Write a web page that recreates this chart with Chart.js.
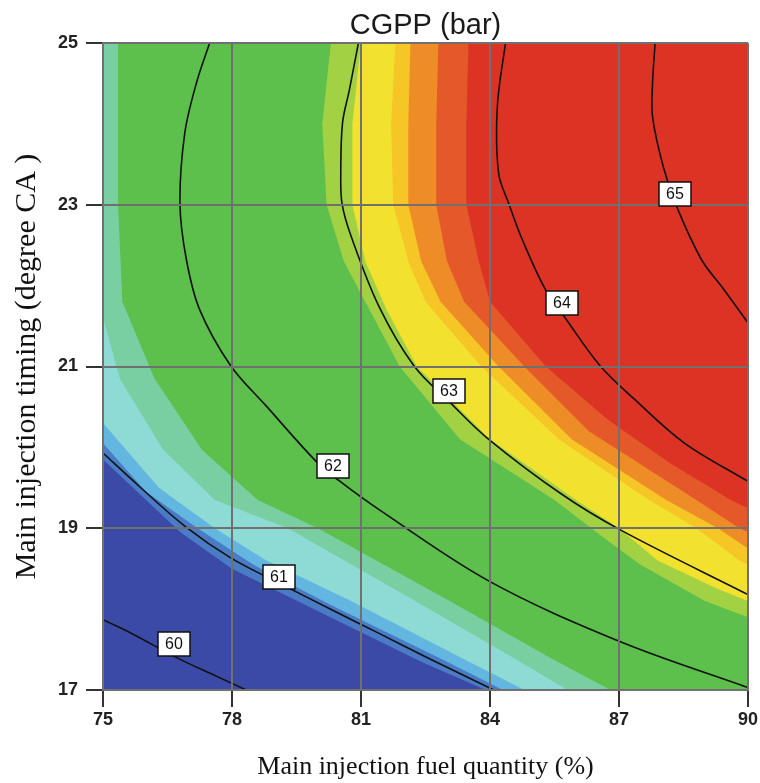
<!DOCTYPE html>
<html>
<head>
<meta charset="utf-8">
<style>
  body { margin: 0; background: #fff; }
  #wrap { width: 760px; height: 783px; }
</style>
</head>
<body>
<div id="wrap"><canvas id="chartCgpp"></canvas></div>
<script src="https://cdn.jsdelivr.net/npm/chart.js@4"></script>
<script>
// axes: main injection fuel quantity (%) and main injection timing (deg CA)
const xRange = [75, 90];
const yRange = [17, 25];
const xStep = 3;
const yStep = 2;

// CGPP contour lines as [fuel %, timing]
const contour60 = [[75, 17.87], [75.70, 17.69], [76.71, 17.40], [77.64, 17.17], [78.33, 17.0]];
const contour61 = [[75, 19.93], [75.86, 19.51], [76.94, 19.01], [77.98, 18.63], [79.10, 18.32],
                   [80.33, 17.99], [81.42, 17.70], [82.58, 17.39], [84.09, 17.0]];
const contour62 = [[77.48, 25], [77.17, 24.50], [76.90, 23.88], [76.79, 23.01], [76.94, 22.32],
                   [77.25, 21.70], [77.97, 21.01], [78.80, 20.51], [79.95, 19.83], [80.46, 19.60],
                   [81.42, 19.23], [84.00, 18.34], [87.02, 17.60], [90, 17.03]];
const contour63 = [[80.94, 25], [80.73, 24.42], [80.57, 24.01], [80.53, 23.39], [80.56, 23.01],
                   [80.77, 22.61], [81.42, 21.74], [82.23, 21.01], [83.08, 20.55],
                   [83.97, 20.10], [85.67, 19.42], [87.03, 18.98], [90, 18.18]];
const contour64 = [[84.36, 25], [84.17, 24.21], [84.20, 23.39], [84.44, 23.01], [84.75, 22.57],
                   [85.29, 21.95], [85.75, 21.60], [86.56, 21.01], [87.37, 20.59], [88.53, 20.05],
                   [90, 19.58]];
const contour65 = [[87.84, 25], [87.78, 24.50], [87.78, 24.09], [88.03, 23.47], [88.34, 22.98],
                   [88.92, 22.32], [89.40, 21.98], [90, 21.54]];
const contourLevels = ['60', '61', '62', '63', '64', '65'];
const contours = [contour60, contour61, contour62, contour63, contour64, contour65];

// label boxes on the contours
const labelX = [76.65, 79.10, 80.34, 83.05, 85.68, 88.30];
const labelY = [17.57, 18.40, 19.77, 20.70, 21.78, 23.13];

// colour band edges, low side (bottom-left) from left/top edge to bottom edge
const edgeTealTint = [[75.35, 25], [75.35, 23], [75.45, 21.8], [76.2, 20.85], [77.3, 19.97], [78.6, 19.35],
                      [80.0, 19.0], [83.0, 18.12], [85.4, 17.4], [86.8, 17.0]];
const edgeLightCyan = [[75, 21.6], [75.4, 20.84], [76.4, 19.97], [77.6, 19.35], [79.3, 19.0], [82.2, 18.12],
                       [84.6, 17.38], [85.8, 17.0]];
const edgeLightBlue = [[75, 20.3], [76.3, 19.5], [77.6, 19.0], [78.8, 18.6], [80.7, 18.12], [83.4, 17.38], [84.8, 17.0]];
const edgeMidBlue = [[75, 20.05], [76.0, 19.45], [77.2, 19.0], [78.5, 18.55], [80.3, 18.05], [83.0, 17.35], [84.3, 17.0]];
const edgeDarkBlue = [[75, 19.85], [76.0, 19.35], [76.8, 18.95], [78.0, 18.5], [80.1, 17.95], [82.4, 17.35], [83.9, 17.0]];

// high side (top-right) from top edge to right edge
const edgeLimeTint = [[80.3, 25], [80.1, 24], [80.2, 23], [80.6, 22.3], [81.3, 21.6], [81.9, 21.0], [83.3, 20.1],
                      [85.5, 19.35], [86.6, 18.9], [87.5, 18.55], [89.0, 18.1], [90, 17.9]];
const edgeYellow = [[81.0, 25], [80.8, 24], [80.8, 23], [81.1, 22.3], [81.6, 21.7], [82.3, 21.0], [84.0, 20.1],
                    [86.0, 19.35], [87.0, 19.0], [87.9, 18.6], [89.3, 18.25], [90, 18.1]];
const edgeGold = [[81.8, 25], [81.7, 24], [81.75, 23], [82.1, 22.3], [82.5, 21.8], [83.8, 21.0], [85.6, 20.1],
                  [87.7, 19.35], [88.8, 19.0], [89.8, 18.6], [90, 18.55]];
const edgeOrange = [[82.15, 25], [82.1, 24], [82.1, 23], [82.4, 22.3], [82.85, 21.8], [84.2, 21.0], [85.9, 20.1],
                    [88.1, 19.35], [89.3, 19.0], [90, 18.75]];
const edgeRedOrange = [[82.8, 25], [82.75, 24], [82.75, 23], [83.0, 22.3], [83.4, 21.8], [84.8, 21.0], [86.3, 20.2],
                       [88.8, 19.35], [89.8, 19.0], [90, 18.95]];
const edgeRed = [[83.5, 25], [83.45, 24], [83.45, 23], [83.74, 22.3], [84.0, 21.8], [85.3, 21.0], [86.75, 20.34],
                 [88.2, 19.8], [89.6, 19.35], [90, 19.25]];

const sans = "'Liberation Sans', Arial, sans-serif";
const serif = "'Liberation Serif', 'Times New Roman', serif";

function pts(arr) {
    return arr.map(p => ({x: p[0], y: p[1]}));
}

// low bands close through the bottom-left corner, high bands through the top-right one
const lowCorner = [[xRange[0], yRange[0]], [xRange[0], yRange[1]]];
const highCorner = [[xRange[1], yRange[1]]];
const wholeArea = [[xRange[0], yRange[1]], [xRange[1], yRange[1]], [xRange[1], yRange[0]], [xRange[0], yRange[0]]];

// bottom to top
const bands = [
    {shape: wholeArea, color: '#5dbf4c'},
    {shape: edgeTealTint.concat(lowCorner), color: '#7acfa2'},
    {shape: edgeLightCyan.concat(lowCorner), color: '#8edbd5'},
    {shape: edgeLightBlue.concat(lowCorner), color: '#62b6e0'},
    {shape: edgeMidBlue.concat(lowCorner), color: '#4a7cc6'},
    {shape: edgeDarkBlue.concat(lowCorner), color: '#3b4aa7'},
    {shape: edgeLimeTint.concat(highCorner), color: '#a2d244'},
    {shape: edgeYellow.concat(highCorner), color: '#f2e22f'},
    {shape: edgeGold.concat(highCorner), color: '#f6c526'},
    {shape: edgeOrange.concat(highCorner), color: '#ee8d27'},
    {shape: edgeRedOrange.concat(highCorner), color: '#e4582a'},
    {shape: edgeRed.concat(highCorner), color: '#dc3325'},
];

const datasets = [];
bands.forEach((b, i) => {
    datasets.push({
        data: pts(b.shape),
        showLine: true,
        fill: 'shape',
        backgroundColor: b.color,
        borderColor: 'rgba(0,0,0,0)',
        borderWidth: 0,
        pointRadius: 0,
        tension: 0,
        order: 100 - i
    });
});
contours.forEach((c, i) => {
    datasets.push({
        label: contourLevels[i],
        data: pts(c),
        showLine: true,
        fill: false,
        borderColor: '#111',
        borderWidth: 1.6,
        pointRadius: 0,
        tension: 0.35,
        order: 0
    });
});

const contourLabels = {
    id: 'contourLabels',
    afterDraw(chart) {
        const {ctx, scales: {x, y}} = chart;
        ctx.save();
        ctx.font = '16px ' + sans;
        ctx.textAlign = 'center';
        ctx.textBaseline = 'middle';
        contourLevels.forEach((lvl, i) => {
            const px = Math.round(x.getPixelForValue(labelX[i]));
            const py = Math.round(y.getPixelForValue(labelY[i]));
            ctx.fillStyle = '#fff';
            ctx.fillRect(px - 16, py - 12, 32, 24);
            ctx.strokeStyle = '#111';
            ctx.lineWidth = 1.5;
            ctx.strokeRect(px - 16, py - 12, 32, 24);
            ctx.fillStyle = '#111';
            ctx.fillText(lvl, px, py + 1);
        });
        ctx.restore();
    }
};

new Chart(document.getElementById('chartCgpp').getContext('2d'), {
    type: 'scatter',
    data: {datasets: datasets},
    plugins: [contourLabels],
    options: {
        responsive: true,
        maintainAspectRatio: false,
        animation: false,
        events: [],
        layout: {padding: {top: 0, right: 10, bottom: 0, left: 0}},
        plugins: {
            legend: {display: false},
            tooltip: {enabled: false},
            title: {
                display: true,
                fullSize: false,
                text: 'CGPP (bar)',
                color: '#1a1a1a',
                font: {family: sans, size: 29, weight: 'normal', lineHeight: 1.0},
                padding: {top: 11, bottom: 3}
            }
        },
        scales: {
            x: {
                type: 'linear',
                min: xRange[0],
                max: xRange[1],
                afterFit: s => { s.height = 93; },
                ticks: {stepSize: xStep, color: '#222', padding: 2, maxRotation: 0,
                        font: {family: sans, size: 18, weight: 'bold'}},
                grid: {color: '#707070', lineWidth: 2, tickColor: '#333', tickWidth: 2, tickLength: 17, z: 1},
                border: {color: '#707070', width: 2, z: 1},
                title: {display: true, text: 'Main injection fuel quantity (%)', color: '#111',
                        font: {family: serif, size: 26, weight: 'normal'}, padding: {top: 0, bottom: 0}}
            },
            y: {
                type: 'linear',
                min: yRange[0],
                max: yRange[1],
                afterFit: s => { s.width = 103; },
                ticks: {stepSize: yStep, color: '#222', padding: 8,
                        font: {family: sans, size: 18, weight: 'bold'}},
                grid: {color: '#707070', lineWidth: 2, tickColor: '#333', tickWidth: 2, tickLength: 17, z: 1},
                border: {color: '#707070', width: 2, z: 1},
                title: {display: true, text: 'Main injection timing (degree CA )', color: '#111',
                        font: {family: serif, size: 30, weight: 'normal'}, padding: {top: 9, bottom: 0}}
            }
        }
    }
});
</script>
</body>
</html>
